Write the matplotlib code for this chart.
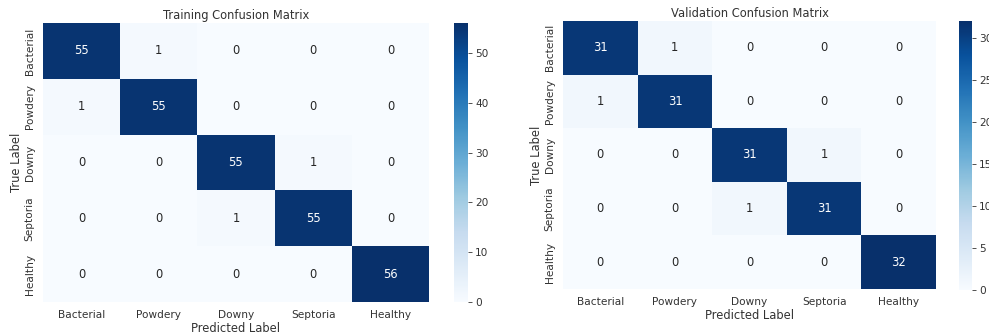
import matplotlib
matplotlib.use('Agg')
import matplotlib.pyplot as plt
import seaborn as sns
import numpy as np

classes = ['Bacterial', 'Powdery', 'Downy', 'Septoria', 'Healthy']

train_cm = [
    [55, 1, 0, 0, 0],
    [1, 55, 0, 0, 0],
    [0, 0, 55, 1, 0],
    [0, 0, 1, 55, 0],
    [0, 0, 0, 0, 56],
]

val_cm = [
    [31, 1, 0, 0, 0],
    [1, 31, 0, 0, 0],
    [0, 0, 31, 1, 0],
    [0, 0, 1, 31, 0],
    [0, 0, 0, 0, 32],
]

plt.rcParams['font.family'] = ['DejaVu Sans']
plt.rcParams['text.color'] = '#333333'
plt.rcParams['axes.labelcolor'] = '#333333'
plt.rcParams['xtick.color'] = '#333333'
plt.rcParams['ytick.color'] = '#333333'

W, H = 989, 335
fig = plt.figure(figsize=(W / 100, H / 100), dpi=100)


def box(x0, y0, x1, y1):
    # pixel box -> figure fraction
    return [x0 / W, 1 - y1 / H, (x1 - x0) / W, (y1 - y0) / H]


def plot_cm(cm, title, ax_box, cb_box, ticks):
    ax = fig.add_axes(box(*ax_box))
    cax = fig.add_axes(box(*cb_box))
    sns.heatmap(np.array(cm), annot=True, fmt='d', cmap='Blues',
                xticklabels=classes, yticklabels=classes,
                ax=ax, cbar_ax=cax, annot_kws={'fontsize': 8.3})
    ax.set_title(title, fontsize=8.3, pad=3)
    ax.set_xlabel('Predicted Label', fontsize=8.3, labelpad=1)
    ax.set_ylabel('True Label', fontsize=8.3, labelpad=1)
    ax.tick_params(axis='both', length=0, labelsize=7.6, pad=6)
    plt.setp(ax.get_yticklabels(), rotation=90, va='center')
    cax.set_yticks(ticks)
    cax.tick_params(labelsize=7.6, length=3, width=0.6, pad=2)
    for sp in cax.spines.values():
        sp.set_visible(False)


plot_cm(train_cm, 'Training Confusion Matrix',
        (43, 23, 429, 302), (454, 23, 468, 302), [0, 10, 20, 30, 40, 50])
plot_cm(val_cm, 'Validation Confusion Matrix',
        (563, 21, 936, 289), (959, 21, 972, 290), [0, 5, 10, 15, 20, 25, 30])

fig.savefig('out.png', dpi=100)
